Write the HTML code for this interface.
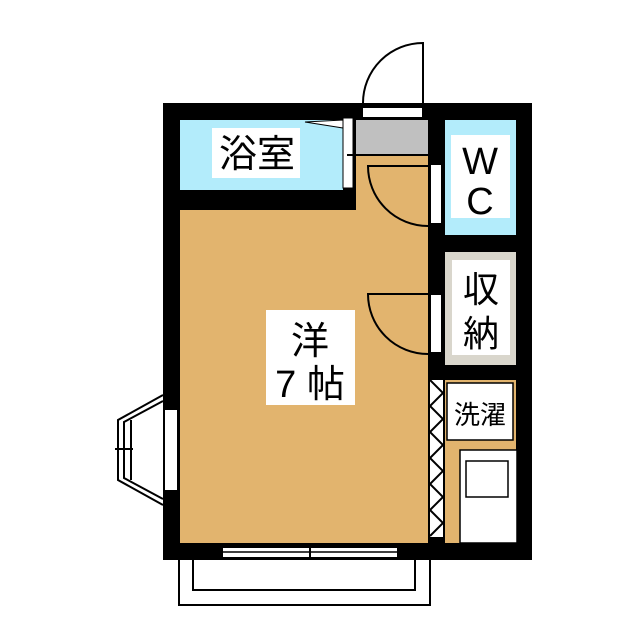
<html><body style="margin:0;background:#fff">
<svg width="640" height="640" viewBox="0 0 640 640" xmlns="http://www.w3.org/2000/svg" style="font-family:'Liberation Sans','Noto Sans CJK JP',sans-serif">
<rect x="163" y="103" width="369" height="457" fill="#000"/>
<rect x="180" y="120" width="163" height="70" fill="#b3ecfb"/>
<rect x="356" y="120" width="72" height="35" fill="#c0c0c0"/>
<rect x="356" y="155" width="72" height="55" fill="#e2b46e"/>
<rect x="180" y="210" width="248" height="333" fill="#e2b46e"/>
<rect x="445" y="120" width="71" height="115" fill="#b3ecfb"/>
<rect x="445" y="252" width="71" height="113" fill="#d9d6cc"/>
<rect x="445" y="380" width="71" height="163" fill="#e2b46e"/>
<rect x="447" y="383" width="66" height="57" fill="#fff" stroke="#000" stroke-width="1.5"/>
<rect x="460" y="450" width="57" height="93" fill="#fff" stroke="#000" stroke-width="1.5"/>
<rect x="466" y="461" width="42" height="36" fill="#fff" stroke="#000" stroke-width="1.5"/>
<rect x="430" y="380" width="13" height="157" fill="#fff"/>
<polyline points="430,380 443,393 430,406 443,419 430,432 443,445 430,458 443,471 430,484 443,497 430,510 443,523 430,536" fill="none" stroke="#000" stroke-width="2"/>
<rect x="212" y="128" width="88" height="50" fill="#fff"/>
<text x="257" y="167" font-size="38" text-anchor="middle">浴室</text>
<rect x="451" y="135" width="59" height="83" fill="#fff"/>
<text x="480" y="174" font-size="38" text-anchor="middle">W</text>
<text x="480" y="214" font-size="38" text-anchor="middle">C</text>
<rect x="452" y="260" width="58" height="95" fill="#fff"/>
<text x="481" y="302" font-size="36" text-anchor="middle">収</text>
<text x="481" y="346" font-size="36" text-anchor="middle">納</text>
<rect x="266" y="310" width="89" height="95" fill="#fff"/>
<text x="310" y="354" font-size="38" text-anchor="middle">洋</text>
<text x="310" y="397" font-size="38" text-anchor="middle">7 帖</text>
<text x="480" y="424" font-size="26" text-anchor="middle">洗濯</text>
<rect x="343" y="118" width="10" height="70" fill="#fff" stroke="#000" stroke-width="1"/>
<polygon points="305,122 343,120 343,128" fill="#fff" stroke="#000" stroke-width="1"/>
<line x1="347" y1="155" x2="428" y2="155" stroke="#000" stroke-width="2"/>
<rect x="363" y="108" width="59" height="9" fill="#fff"/>
<path d="M423,103 L423,43 A60,60 0 0 0 363,103" fill="#fff" stroke="#000" stroke-width="2"/>
<rect x="431" y="165" width="10" height="58" fill="#fff"/>
<path d="M428,166 L368,166 A60,60 0 0 0 428,226" fill="none" stroke="#000" stroke-width="2"/>
<rect x="431" y="295" width="10" height="57" fill="#fff"/>
<path d="M428,294 L368,294 A60,60 0 0 0 428,354" fill="none" stroke="#000" stroke-width="2"/>
<rect x="165" y="410" width="12" height="80" fill="#fff"/>
<g fill="none" stroke="#000" stroke-width="2">
<polyline points="163,395 118,420 118,480 163,505"/>
<polyline points="163,401 124,422 124,478 163,499"/>
<line x1="131" y1="420" x2="131" y2="480"/>
<line x1="115" y1="449" x2="133" y2="449"/>
</g>
<rect x="223" y="548" width="174" height="9" fill="#fff"/>
<line x1="223" y1="552" x2="397" y2="552" stroke="#000" stroke-width="1.5"/>
<line x1="310" y1="543" x2="310" y2="560" stroke="#000" stroke-width="2"/>
<polyline points="179,560 179,605 430,605 430,560" fill="none" stroke="#000" stroke-width="2"/>
<polyline points="193,560 193,590 415,590 415,560" fill="none" stroke="#000" stroke-width="2"/>
</svg>
</body></html>
